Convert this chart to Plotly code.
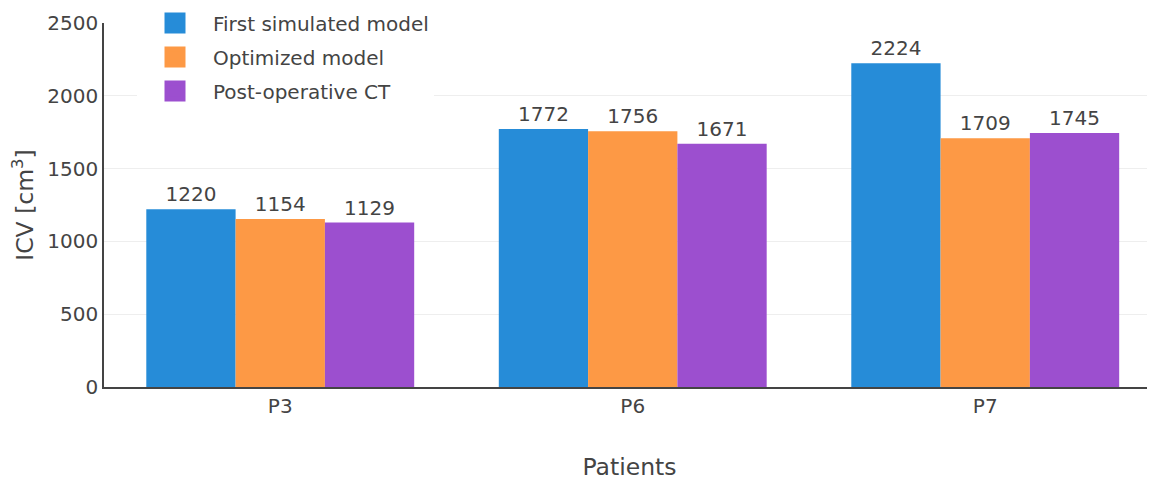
import plotly.graph_objects as go

patients = ["P3", "P6", "P7"]
first_simulated = [1220, 1772, 2224]
optimized = [1154, 1756, 1709]
post_operative = [1129, 1671, 1745]

series_names = ["First simulated model", "Optimized model", "Post-operative CT"]
colors = ["#268cd8", "#fd9945", "#9c4fcf"]

FONT = "Verdana, DejaVu Sans, sans-serif"

fig = go.Figure()
for name, vals, col in zip(series_names, [first_simulated, optimized, post_operative], colors):
    fig.add_trace(go.Bar(
        x=patients, y=vals, name=name, showlegend=False,
        marker=dict(color=col, line=dict(width=0)),
        text=[str(v) for v in vals], textposition="outside",
        textfont=dict(size=20, color="#444", family=FONT),
        cliponaxis=False,
    ))
# legend entries with larger square swatches
for name, col in zip(series_names, colors):
    fig.add_trace(go.Scatter(
        x=[None], y=[None], mode="markers", name=name, legendgroup=name,
        marker=dict(symbol="square", size=16, color=col, line=dict(width=5, color=col)),
    ))

fig.update_layout(
    width=1147, height=477,
    margin=dict(l=96, r=0, t=15, b=98, autoexpand=False),
    barmode="group", bargap=0.24, bargroupgap=0,
    paper_bgcolor="white", plot_bgcolor="white",
    font=dict(family=FONT, size=20, color="#444"),
    legend=dict(x=0.0314, y=1.0536, xanchor="left", yanchor="top",
                bgcolor="white", font=dict(size=20, family=FONT),
                itemwidth=66, tracegroupgap=5),
    xaxis=dict(title=dict(text="Patients", font=dict(size=23.5), standoff=42),
               showline=True, linecolor="#444", linewidth=1.5,
               range=[-0.5, 2.4816], ticks="", showgrid=False),
    yaxis=dict(title=dict(text="\u00a0\u00a0ICV [cm<sup>3</sup>]", font=dict(size=23.5)),
               range=[0, 2500], dtick=500, showline=True, linecolor="#444",
               linewidth=1.5, gridcolor="#eeeeee", zeroline=False, ticks=""),
)

fig.write_html("out.html")
